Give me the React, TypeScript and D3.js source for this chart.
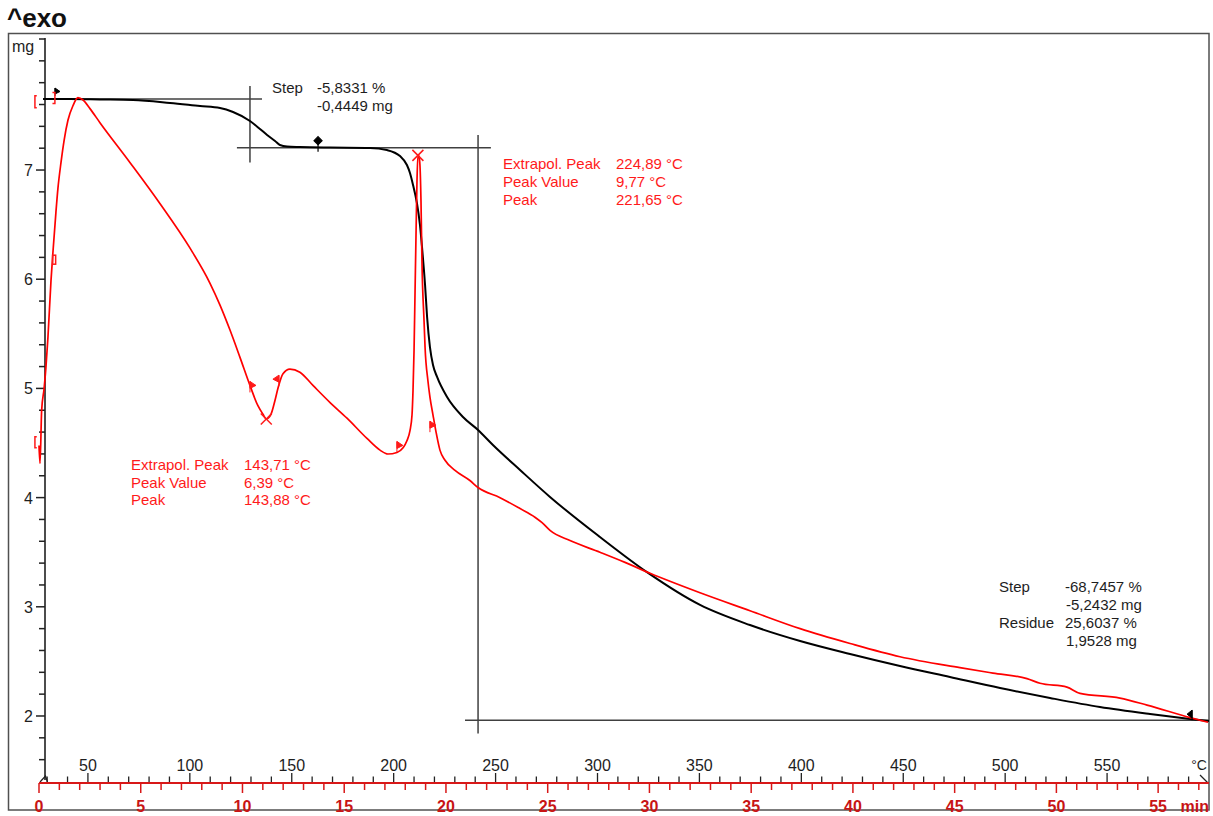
import React from 'react';
import * as d3 from 'd3';

const W = 1213;
const H = 816;

// TGA mass curve: furnace temperature (°C) and sample mass (mg)
const tgaTemp = [28.0, 41.2, 55.9, 72.1, 90.3, 105.0, 114.8, 121.2, 129.5, 134.4, 137.9, 141.8, 144.2, 147.7, 154.0, 168.8, 188.4, 196.7, 203.1, 206.5, 208.0, 209.5, 211.4, 212.9, 213.9, 215.4, 216.4, 217.8, 219.3, 221.3, 226.2, 234.0, 241.4, 248.7, 262.0, 276.7, 301.2, 324.8, 350.3, 374.8, 399.4, 423.9, 448.4, 472.9, 497.5, 522.0, 546.5, 571.1, 590.7, 600.0];
const tgaMass = [7.650, 7.650, 7.646, 7.641, 7.614, 7.586, 7.568, 7.531, 7.449, 7.376, 7.321, 7.266, 7.229, 7.215, 7.211, 7.206, 7.202, 7.183, 7.128, 7.046, 6.973, 6.863, 6.698, 6.497, 6.295, 5.947, 5.654, 5.379, 5.214, 5.105, 4.921, 4.738, 4.619, 4.482, 4.253, 4.006, 3.639, 3.310, 3.017, 2.833, 2.687, 2.568, 2.458, 2.357, 2.256, 2.165, 2.082, 2.018, 1.973, 1.954];

// SDTA signal curve: furnace temperature (°C) and signal (°C)
const sdtaTemp = [26.0, 26.5, 27.3, 28.5, 29.4, 30.4, 31.9, 32.9, 34.3, 35.3, 36.8, 38.3, 40.2, 42.7, 45.1, 47.6, 51.0, 55.9, 70.6, 85.4, 100.1, 109.9, 114.8, 119.7, 124.6, 129.5, 133.4, 135.9, 137.49, 139.8, 141.8, 143.3, 145.7, 149.1, 154.0, 160.4, 168.8, 177.1, 186.9, 193.3, 197.2, 201.6, 204.6, 206.5, 208.0, 209.0, 209.5, 210.0, 210.5, 211.0, 211.4, 211.88, 212.4, 212.9, 213.4, 213.9, 214.9, 215.4, 216.8, 217.8, 219.3, 220.8, 222.7, 225.2, 230.1, 237.4, 241.4, 252.2, 262.0, 269.3, 272.8, 276.7, 286.5, 301.2, 313.5, 325.8, 350.3, 374.8, 399.4, 423.9, 448.4, 477.8, 494.0, 510.7, 517.1, 530.3, 536.7, 556.3, 569.6, 590.7, 599.5];
const sdtaSignal = [6.05, 5.82, 6.50, 6.78, 7.05, 7.44, 8.17, 8.55, 9.04, 9.35, 9.68, 9.96, 10.22, 10.41, 10.51, 10.48, 10.37, 10.19, 9.68, 9.15, 8.58, 8.13, 7.85, 7.53, 7.18, 6.82, 6.56, 6.45, 6.39, 6.45, 6.63, 6.79, 6.97, 7.03, 6.99, 6.82, 6.60, 6.40, 6.14, 5.99, 5.94, 5.96, 6.02, 6.11, 6.24, 6.44, 6.76, 7.27, 8.04, 8.81, 9.39, 9.77, 9.76, 9.64, 9.19, 8.38, 7.65, 7.31, 6.88, 6.67, 6.44, 6.22, 5.99, 5.86, 5.73, 5.60, 5.51, 5.38, 5.24, 5.13, 5.06, 4.96, 4.83, 4.68, 4.55, 4.41, 4.16, 3.93, 3.70, 3.51, 3.34, 3.20, 3.13, 3.06, 3.00, 2.95, 2.87, 2.81, 2.72, 2.56, 2.50];

// Axis ticks
const massTickLabels = [2, 3, 4, 5, 6, 7];
const tempTickLabels = [50, 100, 150, 200, 250, 300, 350, 400, 450, 500, 550];
const timeTickLabels = [0, 5, 10, 15, 20, 25, 30, 35, 40, 45, 50, 55];

// Step evaluations (mg, %)
const stepStartMass = 7.65;
const stepDeltaMg = [-0.4449, -5.2432];
const stepDeltaPct = ['-5,8331 %', '-68,7457 %'];
const stepMidTemp = [129.5, 241.4];
const residueText = ['25,6037 %', '1,9528 mg'];

// Peak evaluations (°C)
const peakSampleTemp = [143.88, 221.65];
const peakValue = [6.39, 9.77];
const peakExtrapol = [143.71, 224.89];

// Evaluation limit flags on the SDTA curve: temperature, signal, direction
const sdtaFlagTemp = [129.5, 143.7, 201.6, 217.8];
const sdtaFlagSignal = [6.82, 6.9, 6.05, 6.31];
const sdtaFlagDir = [1, -1, 1, 1];

const fmt = (v: number, d: number) => v.toFixed(d).replace('.', ',');

const FONT = 'Liberation Sans, Arial, sans-serif';
const RED = '#ff1a1a';
const RED_AXIS = '#d81818';
const RED_LABEL = '#c81414';
const INK = '#1e1e1e';
const GUIDE = '#404040';

export default function App() {
  const x = d3.scaleLinear().domain([26, 600]).range([39, 1209]);
  const xTime = d3.scaleLinear().domain([0, 57.5]).range([39, 1209]);
  const yMass = d3.scaleLinear().domain([1.4, 8.2]).range([781.5, 39]);
  const ySdta = d3.scaleLinear().domain([1.74, 11.25]).range([781.5, 40]);

  const axisX = 45;
  const axisY = 783;

  const tgaPts = tgaTemp.map((t, i) => [t, tgaMass[i]] as [number, number]);
  const sdtaPts = sdtaTemp.map((t, i) => [t, sdtaSignal[i]] as [number, number]);

  const tgaLine = d3
    .line<[number, number]>()
    .x((d) => x(d[0]))
    .y((d) => yMass(d[1]))
    .curve(d3.curveMonotoneX);
  const sdtaLine = d3
    .line<[number, number]>()
    .x((d) => x(d[0]))
    .y((d) => ySdta(d[1]))
    .curve(d3.curveMonotoneX);

  const massTicks = d3.range(1.6, 8.21, 0.2).map((v) => Math.round(v * 10) / 10);
  const tempTicks = d3.range(30, 600, 10);
  const timeTicks = d3.range(0, 58, 1);

  const level0 = stepStartMass;
  const level1 = level0 + stepDeltaMg[0];
  const level2 = level1 + stepDeltaMg[1];

  const peakRefTemp = peakSampleTemp.map((t, i) => t - peakValue[i]);

  const txt = {
    fontFamily: FONT,
    fontSize: 15,
  } as const;

  return (
    <svg
      width={W}
      height={H}
      style={{ position: 'absolute', left: 0, top: 0, background: '#fff' }}
    >
      <rect x={0} y={0} width={W} height={H} fill="#fff" />
      {/* title */}
      <text x={7} y={27} fontFamily={FONT} fontWeight="bold" fontSize={26} fill="#111">
        ^exo
      </text>
      {/* frame */}
      <rect x={8.5} y={33.5} width={1200.5} height={776.5} fill="none" stroke="#505050" strokeWidth={1.5} />

      {/* mass axis */}
      <line x1={axisX} x2={axisX} y1={yMass(8.2) - 1} y2={780} stroke="#111" strokeWidth={1.5} />
      {massTicks.map((v) => {
        const major = massTickLabels.includes(v);
        return (
          <line
            key={'mt' + v}
            x1={axisX - (major ? 9 : 6)}
            x2={axisX}
            y1={yMass(v)}
            y2={yMass(v)}
            stroke="#222"
            strokeWidth={1.5}
          />
        );
      })}
      {massTickLabels.map((v) => (
        <text key={'ml' + v} x={33} y={yMass(v) + 6} textAnchor="end" {...txt} fontSize={16} fill={INK}>
          {v}
        </text>
      ))}
      <text x={12} y={52} {...txt} fontSize={16} fill={INK}>
        mg
      </text>
      <path d={`M40,782 L45.5,776 L47.5,782`} fill="none" stroke="#222" strokeWidth={1.2} />

      {/* temperature ticks (black, upwards) */}
      {tempTicks.map((t) => (
        <line
          key={'tt' + t}
          x1={x(t)}
          x2={x(t)}
          y1={axisY}
          y2={axisY - (t % 50 === 0 ? 10 : 6.5)}
          stroke="#222"
          strokeWidth={1.3}
        />
      ))}
      {tempTickLabels.map((t) => (
        <text key={'tl' + t} x={x(t)} y={771} textAnchor="middle" {...txt} fontSize={16} fill={INK}>
          {t}
        </text>
      ))}
      <text x={1199} y={770} textAnchor="middle" {...txt} fontSize={14} fill={INK}>
        °C
      </text>
      <line x1={1200} y1={775} x2={1207.5} y2={782.5} stroke="#222" strokeWidth={1.2} />

      {/* time axis (red, downwards) */}
      <line x1={xTime(0)} x2={1209} y1={axisY} y2={axisY} stroke={RED_AXIS} strokeWidth={2} />
      {timeTicks.map((t) => (
        <line
          key={'rt' + t}
          x1={xTime(t)}
          x2={xTime(t)}
          y1={axisY}
          y2={axisY + (t % 5 === 0 ? 10 : 7)}
          stroke={RED_AXIS}
          strokeWidth={1.5}
        />
      ))}
      {timeTickLabels.map((t) => (
        <text
          key={'rl' + t}
          x={xTime(t)}
          y={812}
          textAnchor="middle"
          {...txt}
          fontSize={16}
          fontWeight="bold"
          fill={RED_LABEL}
        >
          {t}
        </text>
      ))}
      <text x={1209} y={812} textAnchor="end" {...txt} fontSize={16} fontWeight="bold" fill={RED_LABEL}>
        min
      </text>

      {/* step evaluation guides */}
      <g stroke={GUIDE} strokeWidth={1.5}>
        <line x1={x(28)} x2={x(135.4)} y1={yMass(level0)} y2={yMass(level0)} />
        <line x1={x(stepMidTemp[0])} x2={x(stepMidTemp[0])} y1={yMass(7.77)} y2={yMass(7.07)} />
        <line x1={x(123.1)} x2={x(247.7)} y1={yMass(level1)} y2={yMass(level1)} />
        <line x1={x(stepMidTemp[1])} x2={x(stepMidTemp[1])} y1={yMass(7.32)} y2={yMass(1.84)} />
        <line x1={x(235)} x2={x(600)} y1={yMass(level2)} y2={yMass(level2)} />
      </g>

      {/* curves */}
      <path d={tgaLine(tgaPts) || ''} fill="none" stroke="#000" strokeWidth={2} />
      <path d={sdtaLine(sdtaPts) || ''} fill="none" stroke="#ff0000" strokeWidth={1.7} />

      {/* curve markers */}
      {(() => {
        const fx = x(33.85);
        const fy = yMass(7.687);
        return (
          <g fill="#000" stroke="#000" strokeWidth={1}>
            <path d={`M${fx},${fy - 7} L${fx + 5},${fy - 3.5} L${fx},${fy - 1} Z`} />
            <line x1={fx} x2={fx} y1={fy - 7} y2={fy + 1} />
          </g>
        );
      })()}
      {(() => {
        const px = x(162.9);
        const py = yMass(level1);
        return (
          <g fill="#000" stroke="#000" strokeWidth={1.2}>
            <path d={`M${px},${py - 11} L${px + 4},${py - 7} L${px},${py - 3} L${px - 4},${py - 7} Z`} />
            <line x1={px} x2={px} y1={py - 4} y2={py + 4} />
          </g>
        );
      })()}
      {(() => {
        const ex = x(591.7);
        const ey = yMass(level2);
        return (
          <g fill="#000" stroke="#000" strokeWidth={1}>
            <path d={`M${ex},${ey - 10} L${ex - 5},${ey - 6} L${ex},${ey - 2} Z`} />
            <line x1={ex} x2={ex} y1={ey - 10} y2={ey} />
          </g>
        );
      })()}

      {/* SDTA begin markers */}
      <g fill="none" stroke={RED} strokeWidth={1.5}>
        <path d={`M${x(24.9)},${yMass(7.68)} H${x(24.0)} V${yMass(7.57)} H${x(24.9)}`} />
        <path d={`M${x(32.6)},${yMass(7.71)} H${x(33.8)} V${yMass(7.61)} H${x(32.6)}`} />
        <rect x={x(32.7)} y={ySdta(8.49)} width={3} height={9} />
        <path d={`M${x(24.9)},${ySdta(6.16)} H${x(24.0)} V${ySdta(6.02)} H${x(24.9)}`} />
      </g>

      {/* SDTA evaluation flags */}
      <g fill={RED} stroke={RED} strokeWidth={1}>
        {sdtaFlagTemp.map((t, i) => {
          const fx = x(t);
          const fy = ySdta(sdtaFlagSignal[i]);
          const d = sdtaFlagDir[i];
          return (
            <g key={'sf' + i}>
              <path d={`M${fx},${fy - 4} L${fx + 6 * d},${fy} L${fx},${fy + 3} Z`} />
              <line x1={fx} x2={fx} y1={fy - 4} y2={fy + 7} />
            </g>
          );
        })}
      </g>

      {/* peak crosses */}
      <g stroke={RED} strokeWidth={1.5}>
        {peakRefTemp.map((t, i) => {
          const cx = x(t);
          const cy = ySdta(peakValue[i]);
          return (
            <g key={'pk' + i}>
              <line x1={cx - 5.5} x2={cx + 5.5} y1={cy - 5.5} y2={cy + 5.5} />
              <line x1={cx - 5.5} x2={cx + 5.5} y1={cy + 5.5} y2={cy - 5.5} />
            </g>
          );
        })}
      </g>

      {/* step 1 result */}
      <g {...txt} fill={INK}>
        <text x={272} y={93}>Step</text>
        <text x={317} y={93}>{stepDeltaPct[0]}</text>
        <text x={317} y={111}>{fmt(stepDeltaMg[0], 4)} mg</text>
      </g>

      {/* step 2 result */}
      <g {...txt} fill={INK}>
        <text x={999} y={592}>Step</text>
        <text x={1065} y={592}>{stepDeltaPct[1]}</text>
        <text x={1066} y={610}>{fmt(stepDeltaMg[1], 4)} mg</text>
        <text x={999} y={628}>Residue</text>
        <text x={1065} y={628}>{residueText[0]}</text>
        <text x={1066} y={646}>{residueText[1]}</text>
      </g>

      {/* peak 1 result */}
      <g {...txt} fill={RED}>
        <text x={131} y={470}>Extrapol. Peak</text>
        <text x={131} y={488}>Peak Value</text>
        <text x={131} y={505}>Peak</text>
        <text x={244} y={470}>{fmt(peakExtrapol[0], 2)} °C</text>
        <text x={244} y={488}>{fmt(peakValue[0], 2)} °C</text>
        <text x={244} y={505}>{fmt(peakSampleTemp[0], 2)} °C</text>
      </g>

      {/* peak 2 result */}
      <g {...txt} fill={RED}>
        <text x={503} y={169}>Extrapol. Peak</text>
        <text x={503} y={187}>Peak Value</text>
        <text x={503} y={205}>Peak</text>
        <text x={616} y={169}>{fmt(peakExtrapol[1], 2)} °C</text>
        <text x={616} y={187}>{fmt(peakValue[1], 2)} °C</text>
        <text x={616} y={205}>{fmt(peakSampleTemp[1], 2)} °C</text>
      </g>
    </svg>
  );
}
